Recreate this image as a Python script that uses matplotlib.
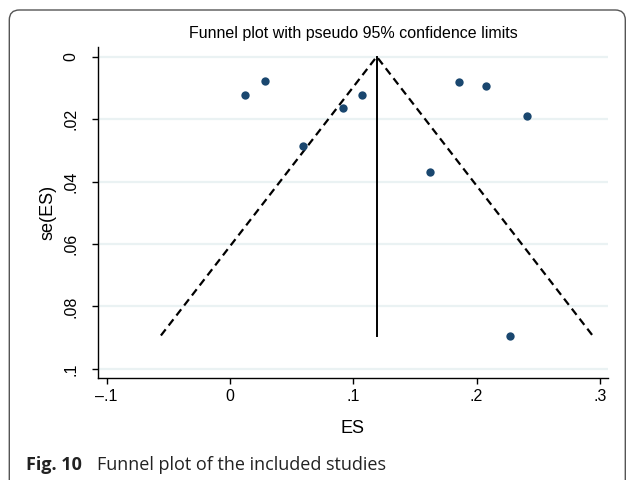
import numpy as np
import matplotlib
matplotlib.use("Agg")
import matplotlib.pyplot as plt
from matplotlib.patches import FancyBboxPatch

# Study estimates
es = [0.012, 0.028, 0.059, 0.092, 0.107, 0.186, 0.208, 0.241, 0.162, 0.227]
se = [0.0123, 0.0079, 0.0286, 0.0165, 0.0122, 0.0080, 0.0094, 0.0190, 0.0370, 0.0893]
pooled = 0.119

x_ticks = [-0.1, 0, 0.1, 0.2, 0.3]
x_labels = ["\u2013.1", "0", ".1", ".2", ".3"]
y_ticks = [0, 0.02, 0.04, 0.06, 0.08, 0.1]
y_labels = ["0", ".02", ".04", ".06", ".08", ".1"]

plt.rcParams['font.family'] = ['Liberation Sans', 'DejaVu Sans']

fig = plt.figure(figsize=(6.29, 4.8), dpi=100)
ax = fig.add_axes([0.1553, 0.2119, 0.8118, 0.6896])

# pseudo 95% confidence limits
se_max = max(se)
z = 1.96
ax.plot([pooled - z * se_max, pooled, pooled + z * se_max], [se_max, 0, se_max],
        color='black', linestyle=(0, (3.5, 2.2)), linewidth=1.6, zorder=2)
ax.plot([pooled, pooled], [0, se_max], color='black', linewidth=1.4, zorder=2)

ax.scatter(es, se, s=36, color='#1a476f', zorder=3, linewidths=0)

ax.set_xlim(-0.1073, 0.3068)
ax.set_ylim(0.1030, -0.0030)
ax.set_xticks(x_ticks)
ax.set_xticklabels(x_labels, fontsize=11.5)
ax.set_yticks(y_ticks)
ax.set_yticklabels(y_labels, fontsize=11.5, rotation=90, va='center')
ax.tick_params(direction='out', length=4, width=1, pad=4)
ax.tick_params(axis='y', pad=10)
ax.grid(axis='y', color='#eaf2f3', linewidth=1.6)
ax.set_axisbelow(True)
for s in ['top', 'right']:
    ax.spines[s].set_visible(False)
for s in ['left', 'bottom']:
    ax.spines[s].set_linewidth(1)

ax.set_xlabel("ES", fontsize=13, labelpad=11)
ax.set_ylabel("se(ES)", fontsize=13, labelpad=5)
ax.set_title("Funnel plot with pseudo 95% confidence limits", fontsize=11.5, pad=6.5)

# outer frame and caption
frame = FancyBboxPatch((0.093, -0.1), 6.16, 4.8, boxstyle="round,pad=0,rounding_size=0.1",
                       transform=fig.dpi_scale_trans, facecolor='none',
                       edgecolor='#555555', linewidth=1.0, clip_on=False)
fig.patches.append(frame)
fig.text(26 / 629, 10 / 480, "Fig. 10", fontsize=13, fontweight='bold',
         family=['Open Sans', 'DejaVu Sans'], va='baseline', color='#222222')
fig.text(97 / 629, 10 / 480, "Funnel plot of the included studies", fontsize=13,
         family=['Open Sans', 'DejaVu Sans'], va='baseline', color='#222222')

fig.savefig("out.png", dpi=100)
